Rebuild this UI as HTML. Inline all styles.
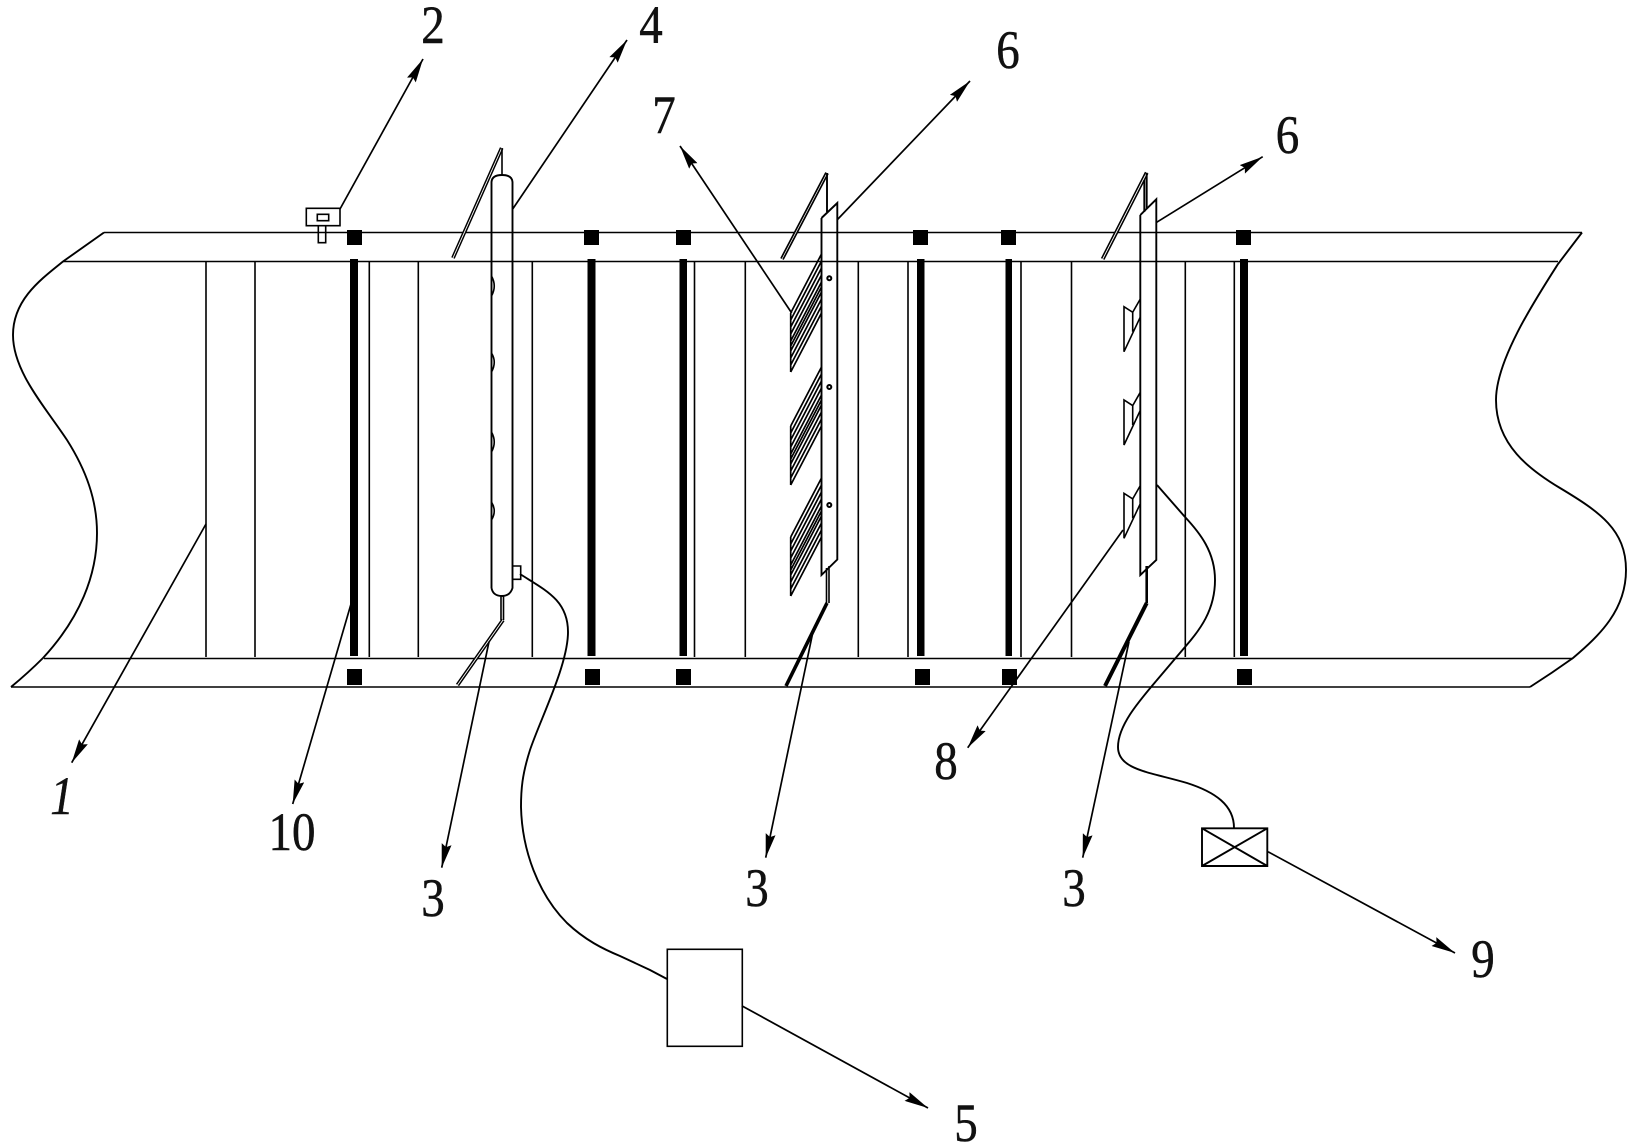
<!DOCTYPE html>
<html>
<head>
<meta charset="utf-8">
<style>
html,body{margin:0;padding:0;background:#fff;}
svg{display:block;}
text{font-family:"Liberation Serif",serif;font-size:54px;fill:#111;text-anchor:middle;stroke:#111;stroke-width:.5;}
.t{stroke:#000;stroke-width:1.6;fill:none;}
.m{stroke:#000;stroke-width:1.9;fill:none;}
.l{stroke:#000;stroke-width:1.7;fill:none;marker-end:url(#a);}
</style>
</head>
<body>
<svg width="1632" height="1144" viewBox="0 0 1632 1144" xmlns="http://www.w3.org/2000/svg">
<defs>
<marker id="a" viewBox="0 0 24 10" refX="24" refY="5" markerWidth="24" markerHeight="10" orient="auto" markerUnits="userSpaceOnUse"><path d="M0 0L24 5L0 10L3 5z" fill="#000"/></marker>
<g id="fin">
<path d="M790.7 313L821.5 254M790.7 320L821.5 261M790.7 327L821.5 268M790.7 334L821.5 275M790.7 341L821.5 282M790.7 346L821.5 287M790.7 351L821.5 292M790.7 358L821.5 299M790.7 365L821.5 306M790.7 372L821.5 313M790.7 313V372" fill="none" stroke="#000" stroke-width="1.7"/>
</g>
<g id="brk">
<path class="t" d="M1140 299.5L1132.7 312.3L1124 306.7V351.7L1140 317.7M1132.7 312.3V331.7"/>
</g>
</defs>
<rect width="1632" height="1144" fill="#fff"/>

<!-- bands -->
<path class="t" d="M104 232.5H1582M63 261.5H1558M44 658.5H1573M11 687H1530"/>
<!-- break curves -->
<path class="m" d="M104 232.5L63 261.5C40 280 13 300 13 335C13 372 46 408 67 440C86 470 97 500 97 533C97 575 80 618 43 658Q28 673 11 687"/>
<path class="m" d="M1582 232.5L1558 264C1535 300 1496 360 1496 400C1496 445 1530 470 1560 488C1600 512 1626 530 1626 570C1626 610 1600 635 1573 658Q1552 673 1530 687"/>

<!-- thin verticals -->
<path class="t" d="M206 261.5V657M255 261.5V657M369.3 261.5V657M418.3 261.5V657M532.3 261.5V657M694.5 261.5V657M745.3 261.5V657M858.3 261.5V657M908 261.5V657M1021 261.5V657M1071.5 261.5V657M1185.3 261.5V657M1234.3 261.5V657"/>

<!-- thick bars -->
<g fill="#000">
<rect x="350" y="259" width="8" height="397"/>
<rect x="587.5" y="259" width="8" height="397"/>
<rect x="679.5" y="259" width="7.5" height="397"/>
<rect x="917" y="259" width="7.5" height="397"/>
<rect x="1005.5" y="259" width="6.5" height="397"/>
<rect x="1240" y="259" width="8" height="397"/>
<rect x="347" y="230" width="15" height="15"/>
<rect x="584" y="230" width="15" height="15"/>
<rect x="676" y="230" width="15" height="15"/>
<rect x="913" y="230" width="15" height="15"/>
<rect x="1001" y="230" width="15" height="15"/>
<rect x="1236" y="230" width="15" height="15"/>
<rect x="347" y="669" width="15" height="16"/>
<rect x="585" y="669" width="15" height="16"/>
<rect x="676" y="669" width="15" height="16"/>
<rect x="915" y="669" width="15" height="16"/>
<rect x="1002" y="669" width="15" height="16"/>
<rect x="1237" y="669" width="15" height="16"/>
</g>

<!-- sensor 2 -->
<path class="t" d="M306.3 208.3H340V225.7H306.3zM317.3 214.3H328.7V220.7H317.3zM318.3 225.7V242.7H325.7V225.7"/>

<!-- pipe 4 -->
<path class="m" d="M491.5 588V182Q492 175 502 175Q512 175 512.5 182V588Q510 596 502 596Q493 596 491.5 588"/>
<path class="t" d="M512.7 566H520.7V579.3H512.7"/>
<path class="t" d="M491.5 276Q497 286 491.5 296M491.5 353Q497 362 491.5 372M491.5 432Q497 442 491.5 452M491.5 502Q497 511 491.5 520"/>
<path class="t" d="M501 596V620M503.5 596V620"/>
<path d="M453 258L501.7 148" stroke="#000" stroke-width="3.8" fill="none"/>
<path d="M453 258L501.7 148" stroke="#fff" stroke-width=".9" fill="none"/>
<path class="t" d="M502 148V176"/>
<path d="M457.5 685L503 620" stroke="#000" stroke-width="3.8" fill="none"/>
<path d="M457.5 685L503 620" stroke="#fff" stroke-width=".9" fill="none"/>

<!-- panel 6 middle -->
<path class="m" d="M821.5 218L837.3 203V559.5L821.5 575V218"/>
<use href="#fin"/>
<use href="#fin" y="113"/>
<use href="#fin" y="224"/>
<g fill="#fff" stroke="#000" stroke-width="2">
<circle cx="829.3" cy="278.3" r="2"/>
<circle cx="829.3" cy="387" r="2"/>
<circle cx="829.3" cy="505" r="2"/>
</g>
<path d="M782 259L827 173" stroke="#000" stroke-width="4" fill="none"/>
<path d="M782 259L827 173" stroke="#fff" stroke-width=".7" fill="none"/>
<path class="m" d="M827 173V212"/>
<path class="t" d="M826.5 568V603M829 566V603"/>
<path d="M786 686L827 603" stroke="#000" stroke-width="3.6" fill="none"/>

<!-- panel 6 right -->
<path class="m" d="M1140.3 215L1156.3 199.3V560L1140.3 575V215"/>
<use href="#brk"/>
<use href="#brk" y="93.3"/>
<use href="#brk" y="186.6"/>
<path d="M1102.7 259L1146.7 172.7" stroke="#000" stroke-width="4" fill="none"/>
<path d="M1102.7 259L1146.7 172.7" stroke="#fff" stroke-width=".9" fill="none"/>
<path class="m" d="M1146.7 172.7V208M1144.3 180V212"/>
<path d="M1146.7 566V603" stroke="#000" stroke-width="2.6" fill="none"/>
<path d="M1105 686L1146.7 603" stroke="#000" stroke-width="4" fill="none"/>

<!-- cables -->
<path class="m" d="M520 574C545 590 568 600 568 632C568 665 540 720 530 750C522 775 521 790 521 807C522 850 538 894 567 923C585 940 603 949 620 956L650 970L667 979"/>
<path class="m" d="M1157 485L1185 517C1200 533 1215 552 1215 580C1215 610 1200 630 1185 647L1157 680C1140 700 1118 725 1118 747C1118 770 1150 772 1187 783C1215 792 1234 805 1234 828"/>

<!-- boxes -->
<rect class="t" x="667.3" y="949.3" width="75" height="97"/>
<path class="m" d="M1202 828.3H1267.3V866H1202zM1202 828.3L1267.3 866M1267.3 828.3L1202 866"/>

<!-- leaders -->
<path class="l" d="M340 209L423 59"/>
<path class="l" d="M512.7 209L627 40"/>
<path class="l" d="M791.7 313L680 146"/>
<path class="l" d="M837 220L970 81"/>
<path class="l" d="M1156 222.7L1262.7 156.7"/>
<path class="l" d="M206 524L71.7 762.7"/>
<path class="l" d="M351 604L292.7 804"/>
<path class="l" d="M489 641.7L441.7 867.7"/>
<path class="l" d="M812.7 633L765.7 857.7"/>
<path class="l" d="M1129 641.7L1082.7 857.7"/>
<path class="l" d="M1123 530L967.7 747.7"/>
<path class="l" d="M741.7 1005.7L928 1108"/>
<path class="l" d="M1268 851.7L1455 953"/>

<!-- labels -->
<text transform="translate(433 43) scale(.87 1)">2</text>
<text transform="translate(651 43) scale(.87 1)">4</text>
<text transform="translate(1008 68) scale(.87 1)">6</text>
<text transform="translate(664 133) scale(.87 1)">7</text>
<text transform="translate(1287.5 153) scale(.87 1)">6</text>
<text transform="translate(62 814) scale(.87 1)" style="font-style:italic">1</text>
<text transform="translate(292 850) scale(.87 1)">10</text>
<text transform="translate(433 916) scale(.87 1)">3</text>
<text transform="translate(757 906) scale(.87 1)">3</text>
<text transform="translate(946 779) scale(.87 1)">8</text>
<text transform="translate(966 1141) scale(.87 1)">5</text>
<text transform="translate(1074 906) scale(.87 1)">3</text>
<text transform="translate(1483 977) scale(.87 1)">9</text>
</svg>
</body>
</html>
